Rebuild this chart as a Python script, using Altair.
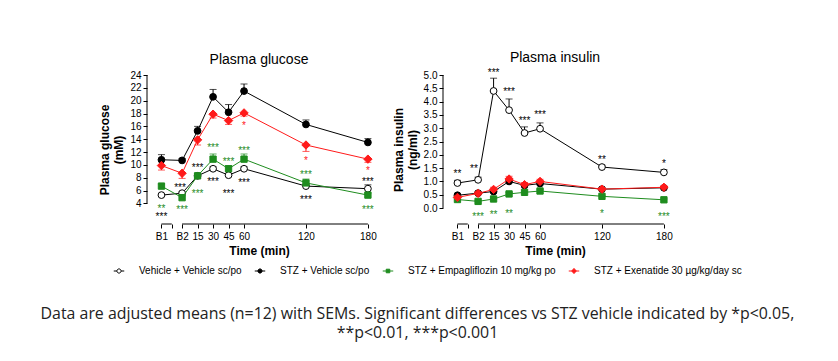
import altair as alt
import pandas as pd

# ---------------- data ----------------
times = [-20, 0, 15, 30, 45, 60, 120, 180]          # -20 = B1, 0 = B2
x_ticks = [-20, -10, 0, 15, 30, 45, 60, 120, 180]
x_seg_start = [-20, 0]
x_seg_end = [-10, 180]

series = [
    "Vehicle + Vehicle sc/po",
    "STZ + Vehicle sc/po",
    "STZ + Empagliflozin 10 mg/kg po",
    "STZ + Exenatide 30 \u00b5g/kg/day sc",
]

# Plasma glucose (mM)
glu_veh = [5.3, 5.6, 8.3, 9.4, 8.4, 9.4, 6.7, 6.3]
glu_stz = [10.8, 10.7, 15.3, 20.6, 18.2, 21.5, 16.3, 13.5]
glu_empa = [6.7, 4.9, 8.3, 10.9, 9.4, 10.9, 7.2, 5.3]
glu_exe = [9.9, 8.7, 13.9, 17.9, 16.9, 18.1, 13.1, 10.9]
glu_veh_sem = [0.2, 0.2, 0.3, 0.3, 0.2, 0.3, 0.3, 0.6]
glu_stz_sem = [0.8, 0.3, 0.7, 1.15, 1.2, 1.1, 0.7, 0.6]
glu_empa_sem = [0.3, 0.3, 0.3, 0.8, 0.5, 0.8, 0.6, 0.3]
glu_exe_sem = [0.7, 0.8, 0.8, 0.6, 0.6, 0.5, 1.0, 0.5]

# Plasma insulin (ng/ml)
ins_veh = [0.94, 1.06, 4.40, 3.68, 2.82, 2.98, 1.54, 1.34]
ins_stz = [0.48, 0.56, 0.62, 1.00, 0.85, 0.92, 0.71, 0.76]
ins_empa = [0.32, 0.25, 0.34, 0.53, 0.59, 0.64, 0.44, 0.31]
ins_exe = [0.40, 0.55, 0.70, 1.09, 0.88, 1.00, 0.71, 0.78]
ins_veh_sem = [0.10, 0.10, 0.48, 0.42, 0.23, 0.22, 0.07, 0.10]
ins_stz_sem = [0.05, 0.05, 0.06, 0.08, 0.06, 0.07, 0.05, 0.05]
ins_empa_sem = [0.03, 0.03, 0.03, 0.05, 0.04, 0.05, 0.04, 0.03]
ins_exe_sem = [0.06, 0.06, 0.08, 0.10, 0.08, 0.08, 0.06, 0.06]

# error-bar direction per series (+1 up, -1 down)
glu_dir = [1, 1, 1, -1]
ins_dir = [1, 1, 1, 1]

# significance annotations: time, y, text, series index
glu_ann_time = [-20, -20, -2, 0, 15, 15, 30, 30, 45, 45, 60, 60, 60, 120, 120, 120, 180, 180, 180]
glu_ann_y = [3.6, 2.3, 6.8, 3.5, 10.0, 6.0, 13.1, 7.8, 10.9, 6.0, 12.6, 7.6, 16.5, 11.1, 8.9, 5.0, 9.5, 7.8, 3.4]
glu_ann_txt = ["**", "***", "***", "***", "***", "***", "***", "***", "***", "***", "***", "***", "*",
               "*", "***", "***", "*", "***", "***"]
glu_ann_ser = [2, 1, 1, 2, 1, 2, 2, 1, 2, 1, 2, 1, 3, 3, 2, 1, 3, 1, 2]

ins_ann_time = [-20, -4, 15, 30, 45, 60, 120, 180, 0, 15, 30, 120, 180]
ins_ann_y = [1.41, 1.59, 5.2, 4.46, 3.37, 3.6, 1.9, 1.77, -0.22, -0.15, -0.12, -0.12, -0.22]
ins_ann_txt = ["**", "**", "***", "***", "***", "***", "**", "*", "***", "**", "**", "*", "***"]
ins_ann_ser = [1, 1, 1, 1, 1, 1, 1, 1, 2, 2, 2, 2, 2]

glu_ticks = [4, 6, 8, 10, 12, 14, 16, 18, 20, 22, 24]
ins_ticks = [0.0, 0.5, 1.0, 1.5, 2.0, 2.5, 3.0, 3.5, 4.0, 4.5, 5.0]

caption = [
    "Data are adjusted means (n=12) with SEMs. Significant differences vs STZ vehicle indicated by *p<0.05,",
    "**p<0.01, ***p<0.001",
]

# ---------------- styles ----------------
BLACK = "#000000"
GREEN = "#1e8c1e"
RED = "#ff1a1a"
ser_stroke = [BLACK, BLACK, GREEN, RED]
ser_fill = ["#ffffff", BLACK, GREEN, RED]
ser_shape = ["circle", "circle", "square", "diamond"]
ser_size = [46, 46, 40, 70]
FONT = "Liberation Sans"
W, H = 224, 149
XDOM = [-34, 183]

label_expr = ("datum.value == -20 ? 'B1' : datum.value == 0 ? 'B2' : "
              "datum.value == -10 ? '' : datum.label")


def panel(vals, sems, dirs, ann_t, ann_y, ann_txt, ann_s, yticks, ydom, ytitle, title, fmt):
    xs = alt.Scale(domain=XDOM, nice=False, zero=False)
    ys = alt.Scale(domain=ydom, nice=False, zero=False)
    xaxis = alt.Axis(values=x_ticks, labelExpr=label_expr, domain=False, grid=False,
                     title="Time (min)", tickSize=4, labelPadding=3, titlePadding=4)
    yaxis = alt.Axis(values=yticks, format=fmt, domain=False, grid=False, title=ytitle,
                     tickSize=4, labelPadding=2, titlePadding=4)

    layers = []
    # x-axis line segments (with break)
    seg = pd.DataFrame({"x0": x_seg_start, "x1": x_seg_end})
    layers.append(alt.Chart(seg).mark_rule(color=BLACK, strokeWidth=1).encode(
        x=alt.X("x0:Q", scale=xs, axis=xaxis), x2="x1:Q", y=alt.value(H)))
    # y-axis line spanning tick range
    yl = pd.DataFrame({"y0": [min(yticks)], "y1": [max(yticks)]})
    layers.append(alt.Chart(yl).mark_rule(color=BLACK, strokeWidth=1).encode(
        y=alt.Y("y0:Q", scale=ys, axis=yaxis), y2="y1:Q", x=alt.value(0)))

    for i, s in enumerate(series):
        df = pd.DataFrame({"time": times, "v": vals[i]})
        df["e"] = [v + dirs[i] * e for v, e in zip(vals[i], sems[i])]
        base = alt.Chart(df)
        X = alt.X("time:Q", scale=xs, axis=xaxis)
        layers.append(base.mark_line(color=ser_stroke[i], strokeWidth=1).encode(
            x=X, y=alt.Y("v:Q", scale=ys, axis=yaxis)))
        layers.append(base.mark_rule(color=ser_stroke[i], strokeWidth=1).encode(
            x=X, y=alt.Y("v:Q", scale=ys, axis=yaxis), y2="e:Q"))
        layers.append(base.mark_tick(orient="horizontal", color=ser_stroke[i], size=7,
                                     thickness=1).encode(
            x=X, y=alt.Y("e:Q", scale=ys, axis=yaxis)))
        layers.append(base.mark_point(shape=ser_shape[i], size=ser_size[i], filled=True,
                                      fill=ser_fill[i], stroke=ser_stroke[i], strokeWidth=1,
                                      opacity=1).encode(
            x=X, y=alt.Y("v:Q", scale=ys, axis=yaxis)))

    for k in range(len(series)):
        idx = [j for j, s in enumerate(ann_s) if s == k]
        if not idx:
            continue
        adf = pd.DataFrame({"time": [ann_t[j] for j in idx], "y": [ann_y[j] for j in idx],
                            "t": [ann_txt[j] for j in idx]})
        layers.append(alt.Chart(adf).mark_text(fontSize=10, font=FONT, baseline="middle",
                                               dy=3, color=ser_stroke[k]).encode(
            x=alt.X("time:Q", scale=xs, axis=xaxis),
            y=alt.Y("y:Q", scale=ys, axis=yaxis),
            text="t:N"))

    return alt.layer(*layers).properties(
        width=W, height=H,
        title=alt.TitleParams(title, fontSize=14, fontWeight="normal", font=FONT,
                              color=BLACK, offset=3))


left = panel([glu_veh, glu_stz, glu_empa, glu_exe],
             [glu_veh_sem, glu_stz_sem, glu_empa_sem, glu_exe_sem], glu_dir,
             glu_ann_time, glu_ann_y, glu_ann_txt, glu_ann_ser,
             glu_ticks, [0.8, 24], ["Plasma glucose", "(mM)"], "Plasma glucose", "d")
right = panel([ins_veh, ins_stz, ins_empa, ins_exe],
              [ins_veh_sem, ins_stz_sem, ins_empa_sem, ins_exe_sem], ins_dir,
              ins_ann_time, ins_ann_y, ins_ann_txt, ins_ann_ser,
              ins_ticks, [-0.6, 5.0], ["Plasma insulin", "(ng/ml)"], "Plasma insulin", ".1f")

# legend symbols: short line through a marker
p_circle = "M-1,0H-0.4M0.4,0H1M-0.4,0A0.4,0.4,0,1,1,0.4,0A0.4,0.4,0,1,1,-0.4,0Z"
p_square = "M-1,0H1M-0.34,-0.34H0.34V0.34H-0.34Z"
p_diamond = "M-1,0H1M0,-0.5L0.44,0L0,0.5L-0.44,0Z"
leg_paths = [p_circle, p_circle, p_square, p_diamond]

leg_df = pd.DataFrame({"series": series})
legend_chart = alt.Chart(leg_df).mark_point(
    filled=True, size=110, strokeWidth=1, opacity=0).encode(
    shape=alt.Shape("series:N", scale=alt.Scale(domain=series, range=leg_paths), title=None,
                    legend=alt.Legend(orient="none", legendX=-34, legendY=0,
                                      direction="horizontal", columns=4, symbolSize=110,
                                      symbolStrokeWidth=1, symbolOpacity=1,
                                      labelFontSize=10, labelFont=FONT, labelColor=BLACK,
                                      labelOffset=14, columnPadding=10, padding=0)),
    fill=alt.Fill("series:N", scale=alt.Scale(domain=series, range=ser_fill), title=None),
    stroke=alt.Stroke("series:N", scale=alt.Scale(domain=series, range=ser_stroke), title=None),
).properties(width=1, height=1)

chart = alt.vconcat(
    alt.hconcat(left, right, spacing=15),
    legend_chart,
    spacing=6,
).resolve_scale(
    shape="independent", fill="independent", stroke="independent"
).resolve_legend(
    shape="independent", fill="independent", stroke="independent"
).properties(
    padding={"left": 32, "top": 42, "right": 5, "bottom": 5},
    title=alt.TitleParams(caption, orient="bottom", anchor="middle", fontSize=15.9,
                          fontWeight="normal", font="Open Sans", color="#222222",
                          offset=30, lineHeight=19, dx=-3),
).configure_view(stroke=None).configure_axis(
    labelFont=FONT, titleFont=FONT, labelFontSize=10, titleFontSize=12,
    titleFontWeight="bold", labelColor=BLACK, titleColor=BLACK, tickColor=BLACK,
)

chart.save("out.html", embed_options={"renderer": "svg", "actions": False})
